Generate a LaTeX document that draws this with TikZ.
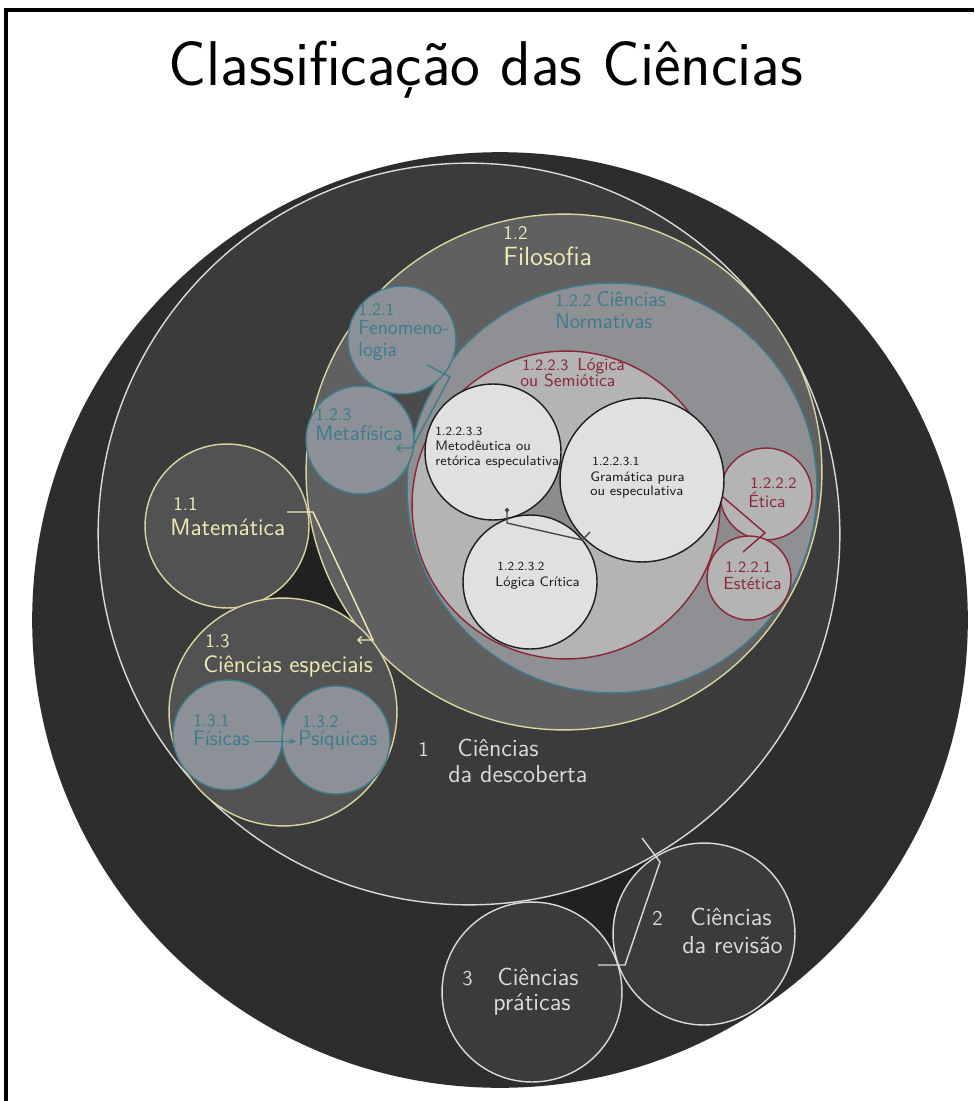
\documentclass[tikz,border=0pt]{standalone}
\usepackage{tikz}
\usetikzlibrary{arrows.meta}
\definecolor{sciOuter}{RGB}{45,45,45}
\definecolor{sciDisc}{RGB}{59,59,59}
\definecolor{sciGapDark}{RGB}{33,33,33}
\definecolor{sciFilo}{RGB}{96,96,96}
\definecolor{sciMat}{RGB}{82,82,82}
\definecolor{sciNorm}{RGB}{142,144,147}
\definecolor{sciBlueFill}{RGB}{139,145,150}
\definecolor{sciGapMid}{RGB}{74,74,74}
\definecolor{sciLogic}{RGB}{180,180,180}
\definecolor{sciGapLight}{RGB}{140,140,140}
\definecolor{sciPale}{RGB}{224,224,224}
\definecolor{sciLine}{RGB}{218,218,218}
\definecolor{sciYellow}{RGB}{218,213,160}
\definecolor{sciYellowText}{RGB}{240,235,182}
\definecolor{sciTeal}{RGB}{62,124,140}
\definecolor{sciRed}{RGB}{138,38,56}
\definecolor{sciInk}{RGB}{30,30,30}

\tikzset{
  ring/.style={circle, inner sep=0pt, minimum size=#1*0.04cm, line width=0.8pt},
  lbl/.style={anchor=base west, inner sep=0pt, font=\sffamily},
  link/.style={line width=0.8pt},
  yelnum/.style={lbl, text=sciYellowText, font=\sffamily\fontsize{11}{13}\selectfont},
  yelname/.style={lbl, text=sciYellowText, font=\sffamily\fontsize{13.5}{16}\selectfont},
  tealnum/.style={lbl, text=sciTeal, font=\sffamily\fontsize{10}{12}\selectfont},
  tealname/.style={lbl, text=sciTeal, font=\sffamily\fontsize{12}{14}\selectfont},
  rednum/.style={lbl, text=sciRed, font=\sffamily\fontsize{9}{11}\selectfont},
  redname/.style={lbl, text=sciRed, font=\sffamily\fontsize{10}{12}\selectfont},
  inknum/.style={lbl, text=sciInk, font=\sffamily\fontsize{7}{8}\selectfont},
  inkname/.style={lbl, text=sciInk, font=\sffamily\fontsize{7.8}{9}\selectfont},
  whnum/.style={lbl, text=sciLine, font=\sffamily\fontsize{12}{14}\selectfont},
  whname/.style={lbl, text=sciLine, font=\sffamily\fontsize{14}{16}\selectfont},
}

\begin{document}
\begin{tikzpicture}[x=0.02cm, y=-0.02cm]
\fill[white] (0,0) rectangle (974,1101);
\useasboundingbox (0,0) rectangle (974,1101);
\draw[line width=2.4pt] (6,1101) -- (6,10) -- (974,10);

% title
\node[anchor=base, inner sep=0pt, font=\sffamily\fontsize{36}{42}\selectfont] (title) at (486,86) {Classificação das Ciências};

% outer disc and the three branches
\node[ring=468, fill=sciOuter] (sci) at (500,620) {};
\fill[sciGapDark] (469,534) -- (704,934) -- (532,992) -- cycle;
\node[ring=371, fill=sciDisc, draw=sciLine] (desc) at (469,534) {};
\node[ring=91, fill=sciDisc, draw=sciLine] (rev) at (704,934) {};
\node[ring=90, fill=sciDisc, draw=sciLine] (prat) at (532,992) {};

% ciencias da descoberta
\fill[sciGapDark] (227,526) -- (283,712) -- (564,472) -- cycle;
\node[ring=258, fill=sciFilo, draw=sciYellow] (filo) at (564,472) {};
\node[ring=82, fill=sciMat, draw=sciYellow] (mat) at (227,526) {};
\node[ring=114, fill=sciMat, draw=sciYellow] (esp) at (283,712) {};
\node[ring=55, fill=sciBlueFill, draw=sciTeal] (fis) at (228,735) {};
\node[ring=54, fill=sciBlueFill, draw=sciTeal] (psi) at (336,740) {};

% filosofia
\fill[sciGapMid] (402,340) -- (360,440) -- (612,488) -- cycle;
\node[ring=205, fill=sciNorm, draw=sciTeal] (norm) at (612,488) {};
\node[ring=54, fill=sciBlueFill, draw=sciTeal] (fen) at (402,340) {};
\node[ring=54, fill=sciBlueFill, draw=sciTeal] (meta) at (360,440) {};

% normativas
\fill[sciGapLight] (566,505) -- (766,494) -- (749,578) -- cycle;
\node[ring=154, fill=sciLogic, draw=sciRed] (logi) at (566,505) {};
\node[ring=46, fill=sciLogic, draw=sciRed] (etic) at (766,494) {};
\node[ring=42, fill=sciLogic, draw=sciRed] (este) at (749,578) {};

% semiotica
\fill[sciGapLight] (493,452) -- (642,480) -- (530,582) -- cycle;
\node[ring=68, fill=sciPale, draw=sciInk] (metod) at (493,452) {};
\node[ring=82, fill=sciPale, draw=sciInk] (gram) at (642,480) {};
\node[ring=67, fill=sciPale, draw=sciInk] (crit) at (530,582) {};

% connectors
\coordinate (mat-a) at (287,512);
\coordinate (mat-b) at (313,512);
\coordinate (mat-c) at (373,640);
\coordinate (esp-a) at (357,640);
\draw[link, sciYellowText, -{Straight Barb[length=2pt]}] (mat-a) -- (mat-b) -- (mat-c) -- (esp-a);

\coordinate (fen-a) at (427,365);
\coordinate (fen-b) at (450,377);
\coordinate (fen-c) at (412,448);
\coordinate (meta-a) at (396,448);
\draw[link, sciTeal, -{Straight Barb[length=2pt]}] (fen-a) -- (fen-b) -- (fen-c) -- (meta-a);

\coordinate (gram-a) at (590,532);
\coordinate (gram-b) at (582,540);
\coordinate (gram-c) at (507,523);
\coordinate (metod-a) at (507,508);
\draw[link, sciInk!80, -{Circle[length=2.5pt]}] (gram-a) -- (gram-b) -- (gram-c) -- (metod-a);

\coordinate (logi-a) at (723,497);
\coordinate (etic-a) at (765,533);
\coordinate (este-a) at (743,552);
\draw[link, sciRed] (logi-a) -- (etic-a) -- (este-a);

\coordinate (desc-a) at (642,838);
\coordinate (rev-a) at (660,862);
\coordinate (rev-b) at (625,965);
\coordinate (prat-a) at (598,965);
\draw[link, sciLine] (desc-a) -- (rev-a) -- (rev-b) -- (prat-a);

% labels
\node[yelnum] (filo-num) at (503,240) {1.2};
\node[yelname, font=\sffamily\fontsize{15}{17}\selectfont] (filo-name) at (503,266) {Filosofia};
\node[yelnum] (mat-num) at (173,510) {1.1};
\node[yelname] (mat-name) at (170,535) {Matemática};
\node[yelnum] (esp-num) at (205,647) {1.3};
\node[yelname] (esp-name) at (203,672) {Ciências especiais};

\node[tealnum] (fen-num) at (358,316) {1.2.1};
\node[tealname, font=\sffamily\fontsize{11.5}{13}\selectfont] (fen-name) at (358,335) {Fenomeno-};
\node[tealname, font=\sffamily\fontsize{11.5}{13}\selectfont] (fen-name2) at (358,356) {logia};
\node[tealnum] (meta-num) at (315,420) {1.2.3};
\node[tealname] (meta-name) at (315,440) {Metafísica};
\node[tealnum] (norm-num) at (555,306) {1.2.2};
\node[tealname] (norm-name) at (596,306) {Ciências};
\node[tealname] (norm-name2) at (555,328) {Normativas};
\node[tealnum] (fis-num) at (193,726) {1.3.1};
\node[tealname] (fis-name) at (193,745) {Físicas};
\node[tealnum] (psi-num) at (302,727) {1.3.2};
\node[tealname] (psi-name) at (298,745) {Psíquicas};
\draw[link, sciTeal, -{Stealth[length=4pt]}] ([xshift=2pt]fis-name.mid east) -- ([xshift=-1pt]psi-name.mid west);

\node[rednum] (logi-num) at (522,370) {1.2.2.3};
\node[redname] (logi-name) at (577,370) {Lógica};
\node[redname] (logi-name2) at (520,386) {ou Semiótica};
\node[rednum] (etic-num) at (750,488) {1.2.2.2};
\node[redname] (etic-name) at (748,507) {Ética};
\node[rednum] (este-num) at (725,572) {1.2.2.1};
\node[redname] (este-name) at (723,589) {Estética};

\node[inknum] (metod-num) at (435,435) {1.2.2.3.3};
\node[inkname] (metod-name) at (435,450) {Metodêutica ou};
\node[inkname] (metod-name2) at (435,465) {retórica especulativa};
\node[inknum] (gram-num) at (592,465) {1.2.2.3.1};
\node[inkname] (gram-name) at (590,481) {Gramática pura};
\node[inkname] (gram-name2) at (590,495) {ou especulativa};
\node[inknum] (crit-num) at (497,570) {1.2.2.3.2};
\node[inkname] (crit-name) at (495,586) {Lógica Crítica};

\node[whnum] (desc-num) at (418,756) {1};
\node[whname] (desc-name) at (457,756) {Ciências};
\node[whname] (desc-name2) at (448,782) {da descoberta};
\node[whnum] (rev-num) at (652,925) {2};
\node[whname] (rev-name) at (690,925) {Ciências};
\node[whname] (rev-name2) at (682,953) {da revisão};
\node[whnum] (prat-num) at (462,985) {3};
\node[whname] (prat-name) at (497,985) {Ciências};
\node[whname] (prat-name2) at (493,1010) {práticas};
\end{tikzpicture}
\end{document}
